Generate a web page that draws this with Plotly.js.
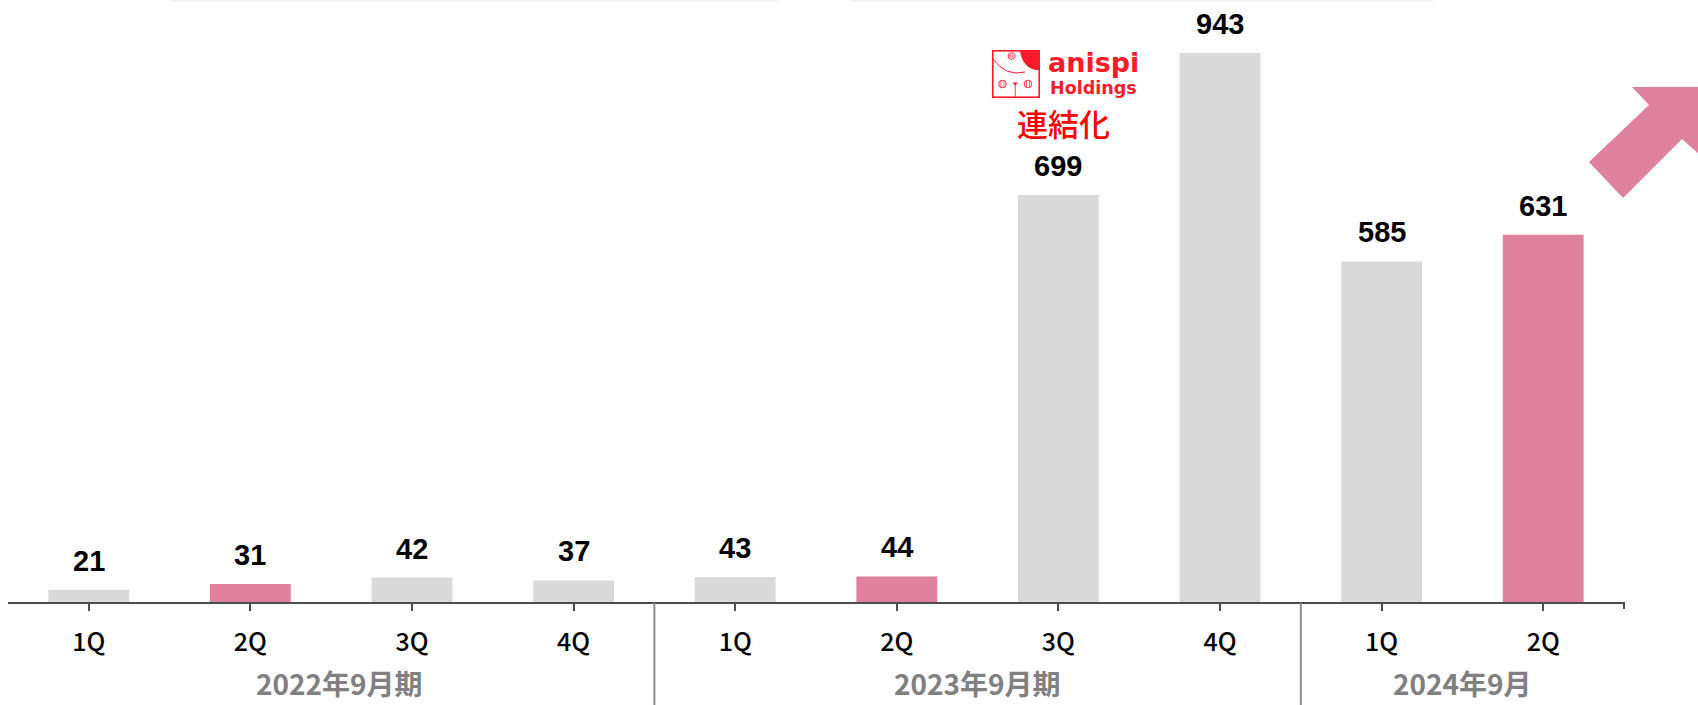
<!DOCTYPE html>
<html>
<head>
<meta charset="utf-8">
<script src="https://cdn.plot.ly/plotly-3.0.1.min.js"></script>
<style>html,body{margin:0;padding:0;background:#fff;}#chart{width:1698px;height:705px;}</style>
</head>
<body>
<div id="chart"></div>
<script>
// ---- data ----
const quarters = ["1Q","2Q","3Q","4Q","1Q","2Q","3Q","4Q","1Q","2Q"];
const values = [21, 31, 42, 37, 43, 44, 699, 943, 585, 631];
const highlight = [false, true, false, false, false, true, false, false, false, true];
const fiscalYears = ["2022年9月期", "2023年9月期", "2024年9月"];
const fiscalYearCenters = [1.55, 5.5, 8.5];
const fiscalYearBreaks = [3.5, 7.5];
const logoName = "anispi";
const logoSub = "Holdings";
const eventLabel = "連結化";

// ---- geometry helpers (pixel -> paper) ----
const W = 1698, H = 705;
const M = {l: 8, r: 74, t: 0, b: 103};
const PW = W - M.l - M.r, PH = H - M.t - M.b;
const px = x => (x - M.l) / PW;
const py = y => (M.t + PH - y) / PH;

const GRAY = "#D9D9D9", PINK = "#E0809F";
const xIdx = quarters.map((_, i) => i);

const trace = {
  type: "bar",
  x: xIdx,
  y: values,
  width: 0.5,
  marker: {color: highlight.map(h => h ? PINK : GRAY)},
  hoverinfo: "skip"
};

const annotations = [];
values.forEach((v, i) => {
  annotations.push({
    x: i, y: v, xref: "x", yref: "y", text: "<b>" + v + "</b>", showarrow: false,
    yanchor: "bottom", yshift: 11,
    font: {family: "Liberation Sans, Arial, sans-serif", size: 29, color: "#000"}
  });
});
fiscalYears.forEach((t, i) => {
  annotations.push({
    x: fiscalYearCenters[i], y: py(683), xref: "x", yref: "paper", text: "<b>" + t + "</b>",
    showarrow: false, xanchor: "center", yanchor: "middle",
    font: {family: "Noto Sans CJK JP, sans-serif", size: 28, color: "#808080"}
  });
});
// logo text
annotations.push({
  x: px(1093), y: py(63), xref: "paper", yref: "paper", text: "<b>" + logoName + "</b>",
  showarrow: false, xanchor: "center", yanchor: "middle",
  font: {family: "DejaVu Sans, sans-serif", size: 27, color: "#FF1A2A"}
});
annotations.push({
  x: px(1093), y: py(88), xref: "paper", yref: "paper", text: "<b>" + logoSub + "</b>",
  showarrow: false, xanchor: "center", yanchor: "middle",
  font: {family: "DejaVu Sans, sans-serif", size: 17.5, color: "#FF1A2A"}
});
annotations.push({
  x: px(1063), y: py(123), xref: "paper", yref: "paper", text: eventLabel,
  showarrow: false, xanchor: "center", yanchor: "middle",
  font: {family: "Noto Sans CJK JP, sans-serif", size: 31, weight: 500, color: "#FF0000"}
});

const shapes = [];
// separators between fiscal years
fiscalYearBreaks.forEach(b => {
  shapes.push({type: "line", xref: "x", yref: "paper", x0: b, x1: b, y0: py(603), y1: py(706),
    line: {color: "#8C8C8C", width: 2}});
});
// end tick at right end of axis
shapes.push({type: "line", xref: "paper", yref: "paper", x0: 1, x1: 1, y0: py(602), y1: py(609),
  line: {color: "#4D4D4D", width: 2}});
// faint lines at the top
shapes.push({type: "line", xref: "paper", yref: "paper", x0: px(170), x1: px(778), y0: py(0.5), y1: py(0.5),
  line: {color: "#F7EEF2", width: 2}});
shapes.push({type: "line", xref: "paper", yref: "paper", x0: px(850), x1: px(1433), y0: py(0.5), y1: py(0.5),
  line: {color: "#F7EEF2", width: 2}});
// growth arrow
const arrowPts = [[1589,162],[1649,105],[1632,87],[1700,87],[1700,155],[1682,139],[1623,198]];
const arrowPath = "M " + arrowPts.map(p => px(p[0]) + "," + py(p[1])).join(" L ") + " Z";
shapes.push({type: "path", xref: "paper", yref: "paper", path: arrowPath,
  fillcolor: PINK, line: {width: 0}});

// logo icon (graphic only, no text)
const iconSvg = `<svg xmlns="http://www.w3.org/2000/svg" viewBox="0 0 48 48" width="48" height="48">
<rect x="0.8" y="0.8" width="46.4" height="46.4" fill="#fff" stroke="#FF1A2A" stroke-width="1.6"/>
<path d="M28 0.8 H47.2 V20 C37 21 29 12 28 0.8 Z" fill="#FF1A2A"/>
<path d="M1 9 Q 14 27 33 22" fill="none" stroke="#FF1A2A" stroke-width="1"/>
<circle cx="19.5" cy="6" r="3.4" fill="none" stroke="#FF1A2A" stroke-width="0.9"/>
<circle cx="19.5" cy="6" r="1.4" fill="none" stroke="#FF1A2A" stroke-width="0.8"/>
<circle cx="10.5" cy="34" r="3.8" fill="none" stroke="#FF1A2A" stroke-width="0.9"/>
<line x1="9" y1="30.5" x2="9" y2="37.5" stroke="#FF1A2A" stroke-width="0.7"/>
<line x1="12" y1="30.5" x2="12" y2="37.5" stroke="#FF1A2A" stroke-width="0.7"/>
<circle cx="36" cy="34" r="3.8" fill="none" stroke="#FF1A2A" stroke-width="0.9"/>
<line x1="34.5" y1="30.5" x2="34.5" y2="37.5" stroke="#FF1A2A" stroke-width="0.7"/>
<line x1="37.5" y1="30.5" x2="37.5" y2="37.5" stroke="#FF1A2A" stroke-width="0.7"/>
<path d="M20.5 32.5 H26 L23.2 35.5 Z" fill="#FF1A2A"/>
<line x1="23.2" y1="35" x2="23.2" y2="47" stroke="#FF1A2A" stroke-width="0.9"/>
</svg>`;
const iconSrc = "data:image/svg+xml;charset=utf-8," + encodeURIComponent(iconSvg);

const layout = {
  width: W, height: H,
  margin: M,
  paper_bgcolor: "#fff", plot_bgcolor: "#fff",
  showlegend: false,
  bargap: 0.5,
  xaxis: {
    range: [-0.5, 9.5],
    tickmode: "array", tickvals: xIdx, ticktext: quarters,
    showline: true, linecolor: "#4D4D4D", linewidth: 2,
    ticks: "outside", ticklen: 7, tickwidth: 2, tickcolor: "#4D4D4D",
    ticklabelstandoff: 10,
    tickfont: {family: "Noto Sans CJK JP, sans-serif", size: 25, weight: 500, color: "#000"},
    showgrid: false, zeroline: false, fixedrange: true
  },
  yaxis: {
    range: [0, 1034], visible: false, showgrid: false, zeroline: false, fixedrange: true
  },
  annotations: annotations,
  shapes: shapes,
  images: [{
    source: iconSrc, xref: "paper", yref: "paper",
    x: px(992), y: py(50), sizex: 48 / PW, sizey: 48 / PH,
    xanchor: "left", yanchor: "top", sizing: "stretch", layer: "above"
  }]
};

Plotly.newPlot("chart", [trace], layout, {staticPlot: true, displayModeBar: false});
</script>
</body>
</html>
